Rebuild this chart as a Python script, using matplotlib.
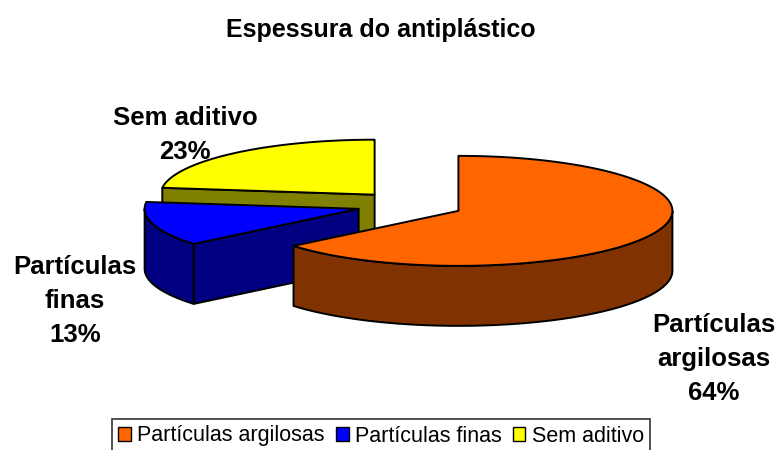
import numpy as np
import matplotlib.pyplot as plt
from matplotlib.patches import Polygon, Patch

# Dados do gráfico
categorias = ['Partículas argilosas', 'Partículas finas', 'Sem aditivo']
rotulos = ['Partículas\nargilosas\n64%', 'Partículas\nfinas\n13%', 'Sem aditivo\n23%']
valores = [64, 13, 23]

cor_topo = ['#FF6600', '#0000FF', '#FFFF00']
cor_lado = ['#803300', '#000080', '#808000']

# geometria da pizza 3D (em pixels da figura)
cx, cy = 410, 205
a, b = 214, 55
prof = 60
explode = 0.25

plt.rcParams['font.family'] = ['Liberation Sans', 'DejaVu Sans']

fig = plt.figure(figsize=(7.78, 4.5), dpi=100)
ax = fig.add_axes([0, 0, 1, 1])
ax.set_xlim(0, 778)
ax.set_ylim(450, 0)
ax.axis('off')


def ponto(x0, y0, t, dz=0):
    return (x0 + a * np.cos(t), y0 - b * np.sin(t) + dz)


# ângulos: começa às 12h e segue no sentido horário
total = sum(valores)
fim = np.pi / 2 - 2 * np.pi * np.cumsum(valores) / total
ini = np.concatenate([[np.pi / 2], fim[:-1]])

fatias = []
for i in range(len(valores)):
    t1, t2 = fim[i], ini[i]  # t1 < t2
    meio = (t1 + t2) / 2
    x0 = cx + explode * a * np.cos(meio)
    y0 = cy - explode * b * np.sin(meio)
    fatias.append((i, t1, t2, x0, y0))

# desenha de trás para frente
ordem = sorted(fatias, key=lambda f: f[4])
for i, t1, t2, x0, y0 in ordem:
    kw = dict(edgecolor='black', linewidth=1.4, joinstyle='round')
    # parede externa visível (metade da frente)
    ts = np.linspace(t1, t2, 300)
    frente = ts[np.sin(ts) < 0]
    if len(frente) > 1:
        topo = [ponto(x0, y0, t) for t in frente]
        base = [ponto(x0, y0, t, prof) for t in frente[::-1]]
        ax.add_patch(Polygon(topo + base, closed=True, facecolor=cor_lado[i], **kw))
    # paredes radiais voltadas para o observador
    for t, visivel in ((t2, np.cos(t2) < -1e-6), (t1, np.cos(t1) > 1e-6)):
        if visivel:
            p = ponto(x0, y0, t)
            quad = [(x0, y0), p, (p[0], p[1] + prof), (x0, y0 + prof)]
            ax.add_patch(Polygon(quad, closed=True, facecolor=cor_lado[i], **kw))
    # face de cima
    topo = [(x0, y0)] + [ponto(x0, y0, t) for t in ts]
    ax.add_patch(Polygon(topo, closed=True, facecolor=cor_topo[i], **kw))

# rótulos das fatias
pos_rotulos = [(714, 359), (75, 301), (185, 135)]
for txt, (x, y) in zip(rotulos, pos_rotulos):
    ax.text(x, y, txt, ha='center', va='center', fontsize=18.5,
            fontweight='bold', linespacing=1.5)

ax.text(381, 30, 'Espessura do antiplástico', ha='center', va='center',
        fontsize=18, fontweight='bold')

handles = [Patch(facecolor=c, edgecolor='black', linewidth=1) for c in cor_topo]
leg = ax.legend(handles, categorias, loc='center', ncol=3,
                bbox_to_anchor=(381 / 778, 1 - 436 / 450),
                fontsize=15.5, frameon=True, fancybox=False, shadow=False,
                handlelength=0.6, handleheight=0.6, handletextpad=0.3,
                columnspacing=0.5, borderpad=0.3, borderaxespad=0)
leg.get_frame().set_edgecolor('black')
leg.get_frame().set_linewidth(1.2)

fig.savefig('out.png', dpi=100, facecolor='white')
